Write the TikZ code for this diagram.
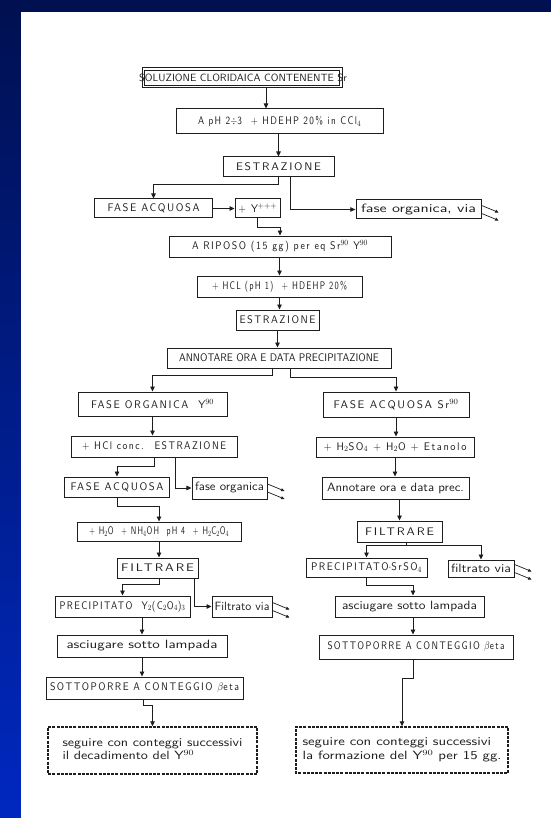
\documentclass[tikz,border=0pt]{standalone}
\usepackage{fontspec}
\usetikzlibrary{arrows.meta}
\newfontfamily\hsf{lmsans10-regular}[Extension=.otf, LetterSpace=15]
\newfontfamily\hsfn{lmsans10-regular}[Extension=.otf]
\newcommand\fUC{\hsf\fontsize{11}{12}\selectfont}
\newcommand\fNO{\hsfn\fontsize{11}{12}\selectfont}
\newcommand\fLC{\hsfn\fontsize{12}{13.5}\selectfont}
\definecolor{navy}{RGB}{0,16,80}
\definecolor{bblue}{RGB}{0,40,192}
\definecolor{ink}{RGB}{30,30,30}
\tikzset{
  box/.style={draw=ink, line width=1pt, inner sep=0pt, text=ink},
  dashbox/.style={line width=1.4pt, dash pattern=on 3pt off 1.2pt},
  frame/.style={draw=ink, line width=1pt},
  inner/.style={draw=ink, line width=0.7pt},
  arr/.style={draw=ink, line width=0.8pt, -{Triangle[length=5pt,width=4.5pt]}},
  exarr/.style={draw=ink, line width=0.7pt, -{Triangle[length=3.5pt,width=3pt]}},
}
\makeatletter
\newsavebox\mytxtbox
\newdimen\mytxtwd
\newcommand\deftext[3]{%
  \sbox\mytxtbox{\fUC #3}%
  \mytxtwd=\wd\mytxtbox
  \ifdim\mytxtwd<1pt \mytxtwd=#2pt\fi
  \pgfmathsetmacro\mytmp{#2/\strip@pt\mytxtwd}%
  \expandafter\global\expandafter\let\csname sx@#1\endcsname\mytmp
  \expandafter\gdef\csname tx@#1\endcsname{#3}}
\newcommand\bx[6][]{%
  \edef\mysx{\csname sx@#2\endcsname}%
  \node[box,#1,transform shape,xscale=\mysx,minimum width={(#5-#3)/\mysx},minimum height={#6-#4}] (#2) at ({(#3+#5)/2},{(#4+#6)/2}) {\fUC\csname tx@#2\endcsname};}
\makeatother
\newcommand\exits[1]{\draw[exarr] ([yshift=4pt]#1.east) -- ++(17,7); \draw[exarr] ([yshift=-4pt]#1.east) -- ++(17,7);}
\begin{document}
\deftext{n2}{163}{A pH 2$\div$3 \ + HDEHP 20\% in CCl$_4$}%
\deftext{n3}{85}{ESTRAZIONE}%
\deftext{n4}{92}{FASE ACQUOSA}%
\deftext{n5}{39}{+ Y$^{+++}$}%
\deftext{n6}{115}{\fLC fase organica, via}%
\deftext{n7}{176}{A RIPOSO (15 gg) per eq Sr$^{90}$ Y$^{90}$}%
\deftext{n8}{135}{+ HCL (pH 1) \ + HDEHP 20\%}%
\deftext{n9}{76}{ESTRAZIONE}%
\deftext{n10}{200}{\fNO ANNOTARE ORA E DATA PRECIPITAZIONE}%
\deftext{L1}{123}{FASE ORGANICA \ Y$^{90}$}%
\deftext{L2}{144}{+ HCl conc. \ ESTRAZIONE}%
\deftext{L3}{93}{FASE ACQUOSA}%
\deftext{L3b}{69}{\fLC fase organica}%
\deftext{L4}{140}{+ H$_2$O \ + NH$_4$OH \ pH 4 \ + H$_2$C$_2$O$_4$}%
\deftext{L5}{73}{FILTRARE}%
\deftext{L6}{126}{PRECIPITATO \ Y$_2$(C$_2$O$_4$)$_3$}%
\deftext{L6b}{55}{\fLC Filtrato via}%
\deftext{L7}{151}{\fLC asciugare sotto lampada}%
\deftext{L8}{189}{SOTTOPORRE A CONTEGGIO $\beta$eta}%
\deftext{L9}{180}{\fLC\begin{tabular}{@{}l@{}}seguire con conteggi successivi\\il decadimento del Y$^{90}$\end{tabular}}%
\deftext{R1}{125}{FASE ACQUOSA Sr$^{90}$}%
\deftext{R2}{143}{+ H$_2$SO$_4$ + H$_2$O + Etanolo}%
\deftext{R3}{137}{\fLC Annotare ora e data prec.}%
\deftext{R4}{69}{FILTRARE}%
\deftext{R5}{111}{PRECIPITATO$\cdot$SrSO$_4$}%
\deftext{R5b}{60}{\fLC filtrato via}%
\deftext{R6}{135}{\fLC asciugare sotto lampada}%
\deftext{R7}{177}{SOTTOPORRE A CONTEGGIO $\beta$eta}%
\deftext{R8}{199}{\fLC\begin{tabular}{@{}l@{}}seguire con conteggi successivi\\la formazione del Y$^{90}$ per 15 gg.\end{tabular}}%
\begin{tikzpicture}[x=1pt,y=-1pt]
\useasboundingbox (0,0) rectangle (551,818);
\fill[navy] (0,0) rectangle (551,818);
\shade[top color=navy, bottom color=bblue] (0,0) rectangle (21,818);
\fill[white] (21,12) rectangle (551,818);

% top box: frame drawn directly, text as a plain node
\draw[frame] (142,68) rectangle (342,88);
\draw[inner] (144.5,70.5) rectangle (339.5,85.5);
\node[inner sep=0pt, text=ink, font=\hsfn\fontsize{10.5}{12}\selectfont,
      minimum width=200, minimum height=20] (n1) at (243,78) {SOLUZIONE CLORIDAICA CONTENENTE Sr};

\bx{n2}{176}{109}{383}{134}
\bx{n3}{223}{157}{334}{177}
\bx{n4}{94}{199}{213}{218}
\bx{n5}{235}{199}{280}{218}
\bx{n6}{356}{200}{481}{219}
\bx{n7}{169}{236}{391}{257}
\bx{n8}{197}{276}{362}{297}
\bx{n9}{236}{310}{319}{330}
\bx{n10}{167}{348}{391}{368}

\bx{L1}{78}{392}{227}{416}
\bx{L2}{71}{436}{237}{457}
\bx{L3}{64}{477}{170}{497}
\bx{L3b}{192}{477}{267}{499}
\bx{L4}{77}{522}{241}{541}
\bx{L5}{117}{558}{198}{578}
\bx{L6}{55}{596}{190}{617}
\bx{L6b}{212}{596}{272}{617}
\bx{L7}{57}{635}{227}{657}
\bx{L8}{46}{677}{243}{699}
\bx[dashbox]{L9}{48}{727}{257}{774}

\bx{R1}{323}{392}{469}{417}
\bx{R2}{316}{437}{474}{457}
\bx{R3}{322}{477}{469}{499}
\bx{R4}{357}{521}{442}{542}
\bx{R5}{306}{558}{427}{577}
\bx{R5b}{448}{560}{514}{577}
\bx{R6}{335}{596}{484}{617}
\bx{R7}{319}{635}{513}{659}
\bx[dashbox]{R8}{296}{727}{508}{773}

\draw[arr] ([xshift=23pt]n1.south) -- ([xshift=23pt]n1.south |- n2.north);
\draw[arr] (n3.north |- n2.south) -- (n3.north);
\draw[arr] (n3.south) -- ++(0,7) -| (n4.north);
\draw[arr] ([xshift=12pt]n3.south) |- (n6.west);
\draw[arr] (n4.east) -- (n5.west);
\draw[arr] (n5.south) -- ++(0,9) -| (n7.north);
\draw[arr] (n8.north |- n7.south) -- (n8.north);
\draw[arr] (n8.south) -- (n8.south |- n9.north);
\draw[arr] (n9.south) -- (n9.south |- n10.north);
\draw[arr] ([xshift=-7pt]n10.south) -- ++(0,7) -| (L1.north);
\draw[arr] ([xshift=11pt]n10.south) -- ++(0,9) -| (R1.north);

\draw[arr] (L1.south) -- (L1.south |- L2.north);
\draw[arr] (L2.south) -- ++(0,9) -| (L3.north);
\draw[arr] ([xshift=21pt]L2.south) |- (L3b.west);
\draw[arr] (L3.south) -- ++(0,9) -| (L4.north);
\draw[arr] (L4.south) -- (L4.south |- L5.north);
\draw[arr] ([xshift=2pt]L5.south) -- ++(0,6) -| (L6.north);
\draw[arr] ([xshift=37pt]L5.south) |- (L6b.west);
\draw[arr] (L7.north |- L6.south) -- (L7.north);
\draw[arr] (L7.south) -- (L7.south |- L8.north);
\draw[arr] ([xshift=-1.5pt]L8.south) -- ++(0,6) -| (L9.north);

\draw[arr] (R1.south) -- (R1.south |- R2.north);
\draw[arr] (R2.south) -- (R2.south |- R3.north);
\draw[arr] (R4.north |- R3.south) -- (R4.north);
\draw[arr] ([xshift=7pt]R4.south) -- ++(0,3) -| (R5.north);
\draw[arr] ([xshift=7pt]R4.south) -- ++(0,3) -| (R5b.north);
\draw[arr] (R5.south) -- ++(0,8) -| ([xshift=3.5pt]R6.north);
\draw[arr] ([xshift=3.5pt]R6.south) -- ([xshift=3.5pt]R6.south |- R7.north);
\draw[arr] ([xshift=-3pt]R7.south) -- ++(0,19) -| (R8.north);

\exits{n6}
\exits{L3b}
\exits{L6b}
\exits{R5b}
\end{tikzpicture}
\end{document}
